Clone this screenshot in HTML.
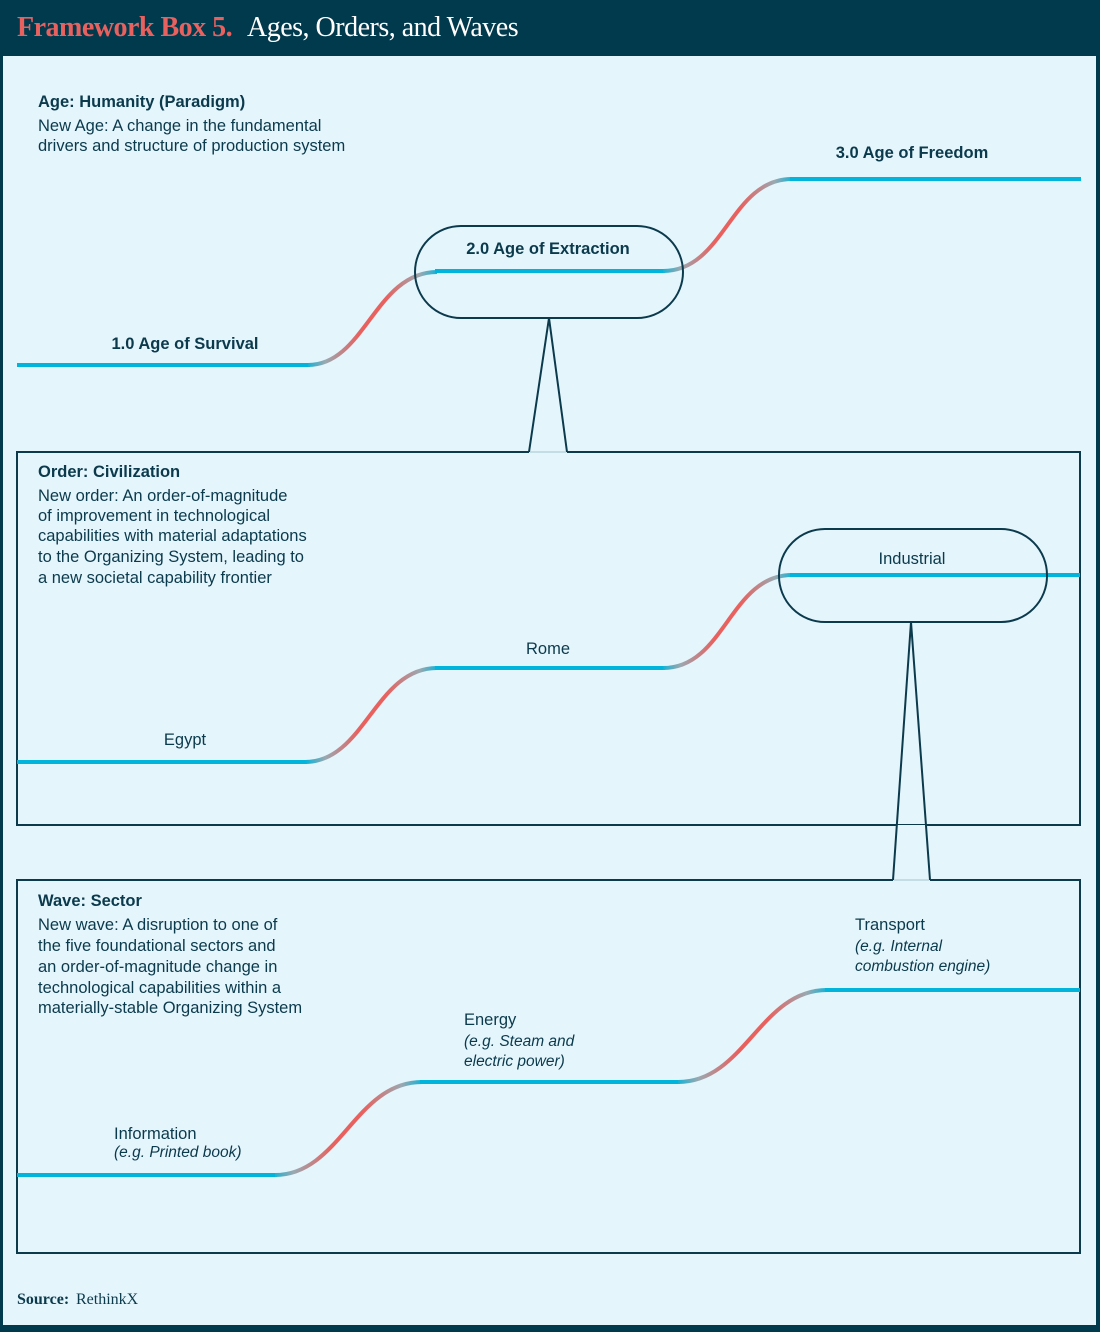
<!DOCTYPE html>
<html><head><meta charset="utf-8"><style>
html,body{margin:0;padding:0;}
body{width:1100px;height:1332px;overflow:hidden;background:#023a4d;}
svg{display:block;}
text{font-family:"Liberation Sans",sans-serif;fill:#0b3a4c;}
.b{font-size:16.5px;}
</style></head><body>
<svg width="1100" height="1332" viewBox="0 0 1100 1332" xmlns="http://www.w3.org/2000/svg">
<defs>
<linearGradient id="g1" gradientUnits="userSpaceOnUse" x1="305" y1="0" x2="440" y2="0"><stop offset="0" stop-color="#00b4dc"/><stop offset="0.15" stop-color="#9aa8b0"/><stop offset="0.4" stop-color="#e8615f"/><stop offset="0.6" stop-color="#e8615f"/><stop offset="0.85" stop-color="#9aa8b0"/><stop offset="1" stop-color="#00b4dc"/></linearGradient>
<linearGradient id="g2" gradientUnits="userSpaceOnUse" x1="660" y1="0" x2="795" y2="0"><stop offset="0" stop-color="#00b4dc"/><stop offset="0.15" stop-color="#9aa8b0"/><stop offset="0.4" stop-color="#e8615f"/><stop offset="0.6" stop-color="#e8615f"/><stop offset="0.85" stop-color="#9aa8b0"/><stop offset="1" stop-color="#00b4dc"/></linearGradient>
<linearGradient id="g3" gradientUnits="userSpaceOnUse" x1="270" y1="0" x2="425" y2="0"><stop offset="0" stop-color="#00b4dc"/><stop offset="0.15" stop-color="#9aa8b0"/><stop offset="0.4" stop-color="#e8615f"/><stop offset="0.6" stop-color="#e8615f"/><stop offset="0.85" stop-color="#9aa8b0"/><stop offset="1" stop-color="#00b4dc"/></linearGradient>
<linearGradient id="g4" gradientUnits="userSpaceOnUse" x1="675" y1="0" x2="830" y2="0"><stop offset="0" stop-color="#00b4dc"/><stop offset="0.15" stop-color="#9aa8b0"/><stop offset="0.4" stop-color="#e8615f"/><stop offset="0.6" stop-color="#e8615f"/><stop offset="0.85" stop-color="#9aa8b0"/><stop offset="1" stop-color="#00b4dc"/></linearGradient>
</defs>
<rect x="0" y="0" width="1100" height="1332" fill="#023a4d"/>
<rect x="3" y="56" width="1093" height="1269" fill="#e4f5fc"/>
<text x="17" y="36" style="font-family:'Liberation Serif',serif;font-size:28px;font-weight:bold;fill:#e8615f;letter-spacing:-0.5px;">Framework Box 5.</text>
<text x="247" y="36" style="font-family:'Liberation Serif',serif;font-size:28px;fill:#ffffff;letter-spacing:-0.5px;">Ages, Orders, and Waves</text>

<text x="38" y="107" class="b" style="font-weight:bold;">Age: Humanity (Paradigm)</text>
<text x="38" y="131" class="b">New Age: A change in the fundamental</text>
<text x="38" y="151" class="b">drivers and structure of production system</text>

<g fill="none" stroke-width="4">
<line x1="17" y1="365" x2="310" y2="365" stroke="#00b4dc"/>
<path d="M308 365 C365 365 375 272 437 272" stroke="url(#g1)"/>
<line x1="435" y1="271" x2="665" y2="271" stroke="#00b4dc"/>
<path d="M663 271 C725 271 730 179 792 179" stroke="url(#g2)"/>
<line x1="790" y1="179" x2="1081" y2="179" stroke="#00b4dc"/>
</g>
<rect x="415" y="226" width="268" height="92" rx="46" fill="none" stroke="#0b3a4c" stroke-width="2"/>
<text x="548" y="254" text-anchor="middle" class="b" style="font-weight:bold;">2.0  Age of Extraction</text>
<text x="185" y="349" text-anchor="middle" class="b" style="font-weight:bold;">1.0  Age of Survival</text>
<text x="912" y="158" text-anchor="middle" class="b" style="font-weight:bold;">3.0  Age of Freedom</text>

<polyline points="529,452 17,452 17,825 1080,825 1080,452 567,452" fill="none" stroke="#0b3a4c" stroke-width="2"/>
<polyline points="529,452 549,318 567,452" fill="none" stroke="#0b3a4c" stroke-width="2"/>
<line x1="530" y1="452" x2="566" y2="452" stroke="#b9d4de" stroke-width="1.5"/>
<text x="38" y="477" class="b" style="font-weight:bold;">Order: Civilization</text>
<text x="38" y="501" class="b">New order: An order-of-magnitude</text>
<text x="38" y="521" class="b">of improvement in technological</text>
<text x="38" y="541" class="b">capabilities with material adaptations</text>
<text x="38" y="562" class="b">to the Organizing System, leading to</text>
<text x="38" y="583" class="b">a new societal capability frontier</text>
<g fill="none" stroke-width="4">
<line x1="17" y1="762" x2="307" y2="762" stroke="#00b4dc"/>
<path d="M305 762 C365 762 375 668 437 668" stroke="url(#g1)"/>
<line x1="435" y1="668" x2="665" y2="668" stroke="#00b4dc"/>
<path d="M663 668 C725 668 730 575 792 575" stroke="url(#g2)"/>
<line x1="790" y1="575" x2="1080" y2="575" stroke="#00b4dc"/>
</g>
<rect x="779" y="529" width="268" height="93" rx="46" fill="none" stroke="#0b3a4c" stroke-width="2"/>
<text x="912" y="564" text-anchor="middle" class="b">Industrial</text>
<text x="548" y="654" text-anchor="middle" class="b">Rome</text>
<text x="185" y="745" text-anchor="middle" class="b">Egypt</text>

<polyline points="893,880 17,880 17,1253 1080,1253 1080,880 930,880" fill="none" stroke="#0b3a4c" stroke-width="2"/>
<polygon points="896,825 927,825 930,880 893,880" fill="#e4f5fc"/>
<polyline points="893,880 911,622 930,880" fill="none" stroke="#0b3a4c" stroke-width="2"/>
<line x1="894" y1="880" x2="929" y2="880" stroke="#b9d4de" stroke-width="1.5"/>
<text x="38" y="906" class="b" style="font-weight:bold;">Wave: Sector</text>
<text x="38" y="930" class="b">New wave: A disruption to one of</text>
<text x="38" y="951" class="b">the five foundational sectors and</text>
<text x="38" y="972" class="b">an order-of-magnitude change in</text>
<text x="38" y="993" class="b">technological capabilities within a</text>
<text x="38" y="1013" class="b">materially-stable Organizing System</text>
<g fill="none" stroke-width="4">
<line x1="17" y1="1175" x2="277" y2="1175" stroke="#00b4dc"/>
<path d="M275 1175 C340 1175 355 1082 422 1082" stroke="url(#g3)"/>
<line x1="420" y1="1082" x2="680" y2="1082" stroke="#00b4dc"/>
<path d="M678 1082 C745 1082 760 990 827 990" stroke="url(#g4)"/>
<line x1="825" y1="990" x2="1080" y2="990" stroke="#00b4dc"/>
</g>
<text x="114" y="1139" class="b">Information</text>
<text x="114" y="1157" style="font-size:15.5px;font-style:italic;">(e.g. Printed book)</text>
<text x="464" y="1025" class="b">Energy</text>
<text x="464" y="1046" style="font-size:15.5px;font-style:italic;">(e.g. Steam and</text>
<text x="464" y="1066" style="font-size:15.5px;font-style:italic;">electric power)</text>
<text x="855" y="930" class="b">Transport</text>
<text x="855" y="951" style="font-size:15.5px;font-style:italic;">(e.g. Internal</text>
<text x="855" y="971" style="font-size:15.5px;font-style:italic;">combustion engine)</text>

<text x="17" y="1304" style="font-family:'Liberation Serif',serif;font-size:16px;font-weight:bold;">Source:</text>
<text x="76" y="1304" style="font-family:'Liberation Serif',serif;font-size:16px;">RethinkX</text>
</svg>
</body></html>
